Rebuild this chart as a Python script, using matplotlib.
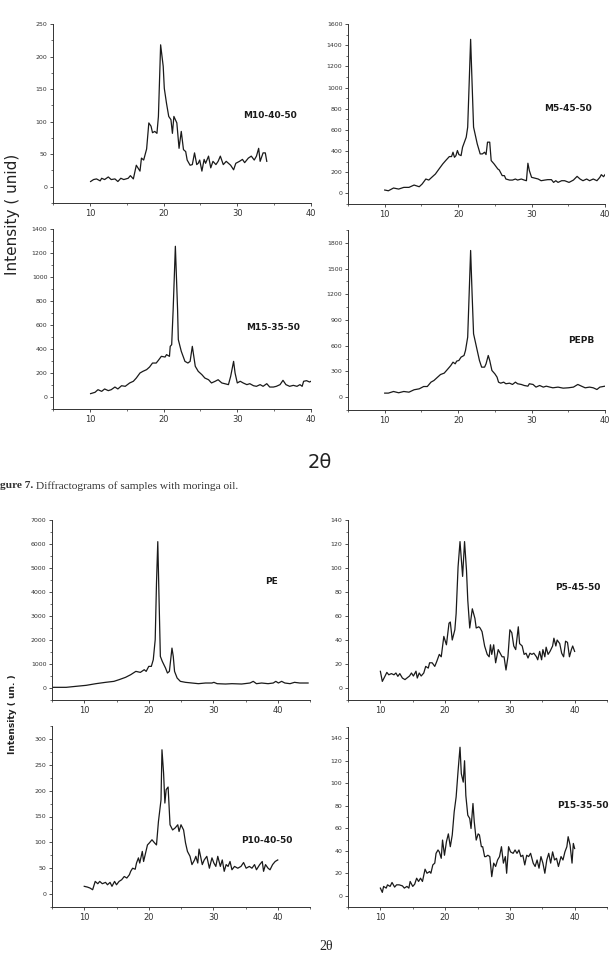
import matplotlib
matplotlib.use("Agg")
import matplotlib.pyplot as plt
from matplotlib.ticker import MultipleLocator

W, H = 611, 961

# ---- Figure 7 (moringa oil) ----
m10_x = [10.1, 10.5, 10.9, 11.4, 11.6, 12.0, 12.5, 12.9, 13.4, 13.8, 14.2, 14.6, 15.2, 15.5, 15.9,
         16.3, 16.8, 17.0, 17.3, 17.7, 18.0, 18.3, 18.5, 18.8, 19.1, 19.3, 19.6, 19.95, 20.1, 20.4,
         20.7, 21.0, 21.2, 21.4, 21.8, 22.1, 22.4, 22.7, 23.0, 23.2, 23.6, 23.9, 24.2, 24.5, 24.7,
         24.9, 25.2, 25.5, 25.7, 26.1, 26.4, 26.7, 27.1, 27.4, 27.7, 28.1, 28.5, 28.8, 29.1, 29.5,
         29.8, 30.3, 30.7, 31.0, 31.5, 31.9, 32.3, 32.6, 32.9, 33.1, 33.5, 33.8, 34.0]
m10_y = [8, 11, 12, 9, 13, 11, 15, 11, 12, 8, 13, 11, 13, 17, 12,
         33, 24, 44, 41, 58, 98, 93, 83, 85, 82, 108, 218, 185, 151, 128,
         108, 103, 82, 108, 98, 59, 85, 57, 54, 41, 33, 34, 52, 34, 36,
         41, 24, 42, 36, 47, 29, 39, 34, 39, 47, 34, 39, 36, 33, 26,
         36, 39, 42, 37, 44, 47, 41, 47, 59, 39, 52, 52, 39]

m5_x = [10.0, 10.5, 11.2, 11.9, 12.6, 13.3, 14.0, 14.7, 15.1, 15.6, 16.0, 16.5, 16.9, 17.4, 17.9,
        18.3, 18.8, 19.1, 19.3, 19.5, 19.7, 19.9, 20.1, 20.4, 20.6, 21.1, 21.3, 21.5, 21.7, 21.9,
        22.1, 22.3, 22.6, 23.0, 23.3, 23.6, 23.8, 24.0, 24.3, 24.5, 24.9, 25.4, 25.6, 26.0, 26.3,
        26.5, 27.0, 27.4, 27.8, 28.1, 28.6, 29.0, 29.3, 29.5, 29.7, 30.0, 30.4, 30.9, 31.3, 31.8,
        32.2, 32.7, 33.0, 33.3, 33.6, 34.1, 34.5, 35.1, 35.7, 36.2, 36.6, 37.0, 37.5, 37.9, 38.4,
        38.9, 39.3, 39.5, 39.8, 40.0]
m5_y = [32, 25, 51, 41, 57, 57, 79, 63, 89, 136, 126, 158, 183, 231, 278,
        310, 348, 348, 389, 341, 357, 405, 367, 357, 436, 531, 626, 1037, 1455, 1037,
        626, 563, 468, 373, 373, 389, 367, 484, 484, 310, 278, 231, 221, 168, 168,
        136, 126, 126, 136, 126, 136, 126, 120, 285, 215, 152, 145, 136, 120, 126,
        130, 130, 104, 120, 104, 120, 120, 104, 126, 161, 136, 120, 136, 120, 136,
        120, 152, 177, 158, 177]

m15_x = [10.1, 10.7, 11.1, 11.6, 12.0, 12.5, 12.9, 13.4, 13.8, 14.3, 14.8, 15.4, 15.9, 16.3, 16.8,
         17.2, 17.7, 18.1, 18.5, 19.0, 19.3, 19.7, 20.2, 20.4, 20.8, 20.9, 21.1, 21.3, 21.6, 21.9,
         22.0, 22.4, 22.9, 23.3, 23.6, 23.9, 24.1, 24.3, 24.7, 25.2, 25.6, 26.1, 26.5, 27.0, 27.4,
         27.9, 28.3, 28.8, 29.1, 29.5, 29.7, 30.0, 30.4, 30.8, 31.3, 31.7, 32.2, 32.6, 33.1, 33.5,
         34.0, 34.4, 34.9, 35.3, 35.8, 36.2, 36.6, 37.1, 37.6, 38.1, 38.5, 38.8, 39.0, 39.4, 39.8,
         40.0]
m15_y = [28, 39, 61, 47, 67, 53, 61, 83, 67, 94, 89, 117, 131, 158, 200,
         214, 228, 250, 283, 283, 306, 339, 333, 353, 339, 422, 436, 728, 1256, 728,
         478, 381, 297, 283, 297, 422, 339, 256, 214, 186, 158, 144, 117, 131, 144,
         117, 111, 103, 172, 297, 200, 117, 131, 117, 103, 111, 94, 89, 103, 89,
         111, 83, 83, 89, 103, 139, 103, 89, 97, 89, 103, 89, 131, 136, 125,
         131]

pepb_x = [10.0, 10.5, 11.2, 11.9, 12.6, 13.3, 14.0, 14.7, 15.3, 15.8, 16.3, 16.7, 17.2, 17.6, 18.1,
          18.5, 19.0, 19.3, 19.6, 19.8, 20.1, 20.4, 20.8, 21.0, 21.3, 21.5, 21.7, 21.9, 22.1, 22.3,
          22.6, 22.9, 23.2, 23.6, 23.8, 24.1, 24.3, 24.6, 25.0, 25.3, 25.5, 25.8, 26.2, 26.5, 27.0,
          27.4, 27.8, 28.1, 28.6, 29.0, 29.5, 29.7, 30.2, 30.6, 31.1, 31.6, 32.0, 32.5, 32.9, 33.6,
          34.3, 35.0, 35.7, 36.3, 36.8, 37.3, 37.9, 38.4, 38.9, 39.3, 40.0]
pepb_y = [47, 47, 66, 51, 66, 58, 86, 97, 124, 124, 175, 194, 233, 264, 280,
          319, 369, 408, 389, 420, 428, 467, 486, 544, 700, 1205, 1711, 1205, 739, 661,
          544, 428, 350, 350, 389, 486, 428, 311, 272, 233, 175, 163, 175, 156, 163,
          148, 175, 156, 148, 136, 128, 156, 148, 117, 136, 117, 128, 117, 109, 117,
          105, 109, 117, 148, 128, 109, 117, 109, 89, 117, 128]

# ---- Figure 8 ----
pe_x = [5.0, 7.2, 8.7, 10.3, 11.8, 13.3, 14.6, 15.4, 16.4, 17.2, 18.0, 18.7, 19.3, 19.6, 20.0,
        20.4, 20.7, 21.0, 21.2, 21.4, 21.6, 21.8, 22.1, 22.6, 22.9, 23.2, 23.4, 23.6, 23.8, 24.0,
        24.4, 24.9, 25.7, 26.7, 27.7, 28.8, 29.8, 30.1, 30.6, 31.9, 32.9, 34.4, 35.7, 36.2, 36.7,
        37.5, 38.5, 39.3, 39.7, 40.1, 40.6, 41.1, 41.9, 42.6, 43.4, 44.7]
pe_y = [28, 28, 69, 111, 180, 236, 277, 347, 444, 554, 693, 651, 762, 693, 901,
        901, 1178, 2010, 4366, 6098, 3673, 1317, 1109, 832, 624, 693, 1178, 1663, 1317, 693,
        416, 277, 236, 208, 180, 208, 208, 236, 180, 166, 180, 166, 208, 277, 180,
        208, 180, 208, 277, 208, 277, 208, 180, 236, 208, 208]

p5_x = [10.0, 10.3, 10.7, 11.0, 11.3, 11.7, 12.1, 12.4, 12.7, 13.0, 13.4, 13.8, 14.1, 14.5, 14.8,
        15.1, 15.5, 15.7, 16.0, 16.3, 16.7, 17.0, 17.4, 17.6, 18.0, 18.4, 18.7, 19.1, 19.4, 19.8,
        20.2, 20.6, 20.8, 21.1, 21.5, 21.7, 22.0, 22.3, 22.7, 23.0, 23.3, 23.5, 23.8, 24.2, 24.6,
        24.8, 25.2, 25.4, 25.7, 26.1, 26.5, 26.8, 27.0, 27.2, 27.5, 27.8, 28.2, 28.5, 28.8, 29.1,
        29.4, 29.7, 30.0, 30.3, 30.6, 30.9, 31.3, 31.5, 31.9, 32.2, 32.5, 32.8, 33.1, 33.4, 33.7,
        34.1, 34.3, 34.6, 34.9, 35.1, 35.4, 35.6, 35.9, 36.2, 36.6, 36.8, 37.1, 37.3, 37.7, 38.0,
        38.3, 38.6, 38.9, 39.2, 39.5, 39.7, 40.0]
p5_y = [13.9, 5.5, 9.7, 13, 11, 12, 11, 12.5, 9.7, 12, 8.3, 7, 8.3, 10, 12.5,
        10, 14, 8.3, 12.5, 10, 12.5, 18, 16.6, 21, 21, 18, 22, 28, 26, 43,
        36, 54, 55, 40, 48.5, 62, 101, 122, 93, 122, 98, 73, 50, 66, 58,
        50, 51, 50, 47, 35, 28, 26, 36, 28, 36, 21, 32, 29, 26, 26,
        15, 26, 48.5, 46, 35, 32, 51, 37, 35, 28, 29, 25, 29, 28, 29,
        26, 23.5, 30.5, 23.5, 32, 26, 34, 28, 30.5, 35, 41.5, 35, 40, 37, 29,
        26, 39, 38, 26, 32, 35, 30.5]

p10_x = [10.0, 10.5, 10.9, 11.3, 11.7, 12.1, 12.4, 12.8, 13.3, 13.6, 14.0, 14.3, 14.7, 15.0, 15.4,
         15.8, 16.2, 16.6, 17.0, 17.2, 17.5, 17.9, 18.1, 18.4, 18.6, 19.0, 19.2, 19.5, 19.8, 20.1,
         20.5, 20.9, 21.2, 21.5, 21.9, 22.05, 22.3, 22.5, 22.7, 23.0, 23.3, 23.7, 24.1, 24.5, 24.7,
         25.0, 25.4, 25.7, 26.0, 26.4, 26.7, 27.1, 27.3, 27.6, 27.8, 28.3, 28.6, 29.0, 29.4, 29.8,
         30.1, 30.4, 30.7, 31.1, 31.4, 31.7, 32.0, 32.3, 32.6, 32.9, 33.3, 33.8, 34.3, 34.7, 35.1,
         35.6, 36.0, 36.4, 36.7, 37.2, 37.6, 37.8, 38.1, 38.5, 38.8, 39.2, 39.6, 40.0]
p10_y = [15, 13.5, 11.6, 8.4, 24.5, 20, 24.5, 20, 22.6, 18, 22.6, 15, 24.5, 18, 24.5,
         27.7, 34, 31, 37.4, 44, 50, 48, 60, 70, 60, 82.5, 63, 79, 95, 99,
         105, 99, 95, 140, 182, 279, 234, 176, 202, 207, 134, 124, 128, 134, 121,
         134, 124, 99, 82.5, 73, 57, 66, 73, 60, 87, 57, 66, 73, 50, 70,
         60, 53.5, 73, 53.5, 66, 44, 57, 53.5, 63, 47, 53.5, 50, 53.5, 61, 50,
         53.5, 50, 57, 47, 57, 63, 44, 57, 50, 47, 57, 63, 66]

p15_x = [10.0, 10.3, 10.5, 10.9, 11.1, 11.5, 11.8, 12.2, 12.5, 12.9, 13.4, 13.7, 14.1, 14.4, 14.6,
         15.0, 15.3, 15.6, 15.9, 16.2, 16.5, 16.9, 17.2, 17.6, 17.8, 18.1, 18.4, 18.6, 18.9, 19.1,
         19.4, 19.6, 19.9, 20.2, 20.5, 20.8, 21.1, 21.4, 21.7, 22.0, 22.3, 22.5, 22.8, 23.0, 23.2,
         23.5, 23.8, 24.0, 24.3, 24.5, 24.8, 25.1, 25.3, 25.6, 25.8, 26.1, 26.3, 26.6, 26.9, 27.2,
         27.5, 27.8, 28.1, 28.4, 28.7, 29.0, 29.3, 29.5, 29.8, 30.1, 30.5, 30.8, 31.1, 31.4, 31.7,
         32.0, 32.3, 32.6, 32.9, 33.2, 33.6, 33.9, 34.2, 34.5, 34.8, 35.1, 35.4, 35.7, 36.0, 36.3,
         36.6, 36.9, 37.2, 37.5, 37.9, 38.2, 38.5, 38.8, 39.0, 39.3, 39.6, 39.8, 40.0]
p15_y = [6.8, 3, 8.3, 6.8, 9.7, 8.3, 11.8, 7.7, 9.7, 9.7, 8.8, 6.8, 8.3, 6.8, 12.7,
         8.3, 10.3, 15.6, 12.7, 15.6, 12.7, 23.6, 20, 21.5, 20, 27.4, 29, 37.7, 40.7, 39,
         33.3, 49.5, 36, 48, 55, 43.6, 54, 74.6, 87.8, 111, 132, 108.5, 101, 120, 89,
         71.6, 68.7, 59.8, 82, 65.7, 49.5, 55, 54, 43.6, 43.6, 34.8, 34.8, 36, 34.8, 17,
         29, 26, 31.8, 34.8, 43.6, 29, 34.8, 20, 43.6, 39, 37.7, 40.7, 37.7, 40.7, 34.8,
         36, 27.4, 36, 34.8, 37.7, 29, 26, 31.8, 24.5, 34.8, 29, 20, 31.8, 37.7, 29,
         39, 31.8, 33.3, 26, 34.8, 31.8, 39, 43.6, 52.5, 45, 29, 46.5, 42]

# name, x, y, label position, ylim, y major step, xlim, pixel box (l, t, r, b)
panels = [
    ("M10-40-50", m10_x, m10_y, (34.4, 109), (-25, 250), 50, (5, 40), (53, 24, 311, 203)),
    ("M5-45-50", m5_x, m5_y, (34.9, 805), (-100, 1600), 200, (5, 40), (348, 24, 605, 204)),
    ("M15-35-50", m15_x, m15_y, (34.9, 575), (-100, 1400), 200, (5, 40), (53, 229, 311, 409)),
    ("PEPB", pepb_x, pepb_y, (36.7, 663), (-150, 1950), 300, (5, 40), (348, 230, 605, 410)),
    ("PE", pe_x, pe_y, (39.0, 4458), (-500, 7000), 1000, (5, 45), (52, 520, 310, 700)),
    ("P5-45-50", p5_x, p5_y, (40.5, 84), (-10, 140), 20, (5, 45), (348, 520, 607, 700)),
    ("P10-40-50", p10_x, p10_y, (38.3, 103), (-25, 325), 50, (5, 45), (52, 726, 310, 907)),
    ("P15-35-50", p15_x, p15_y, (41.2, 80), (-10, 150), 20, (5, 45), (348, 727, 607, 907)),
]

fig = plt.figure(figsize=(W / 100, H / 100), dpi=100)

for name, xs, ys, lab, ylim, ystep, xlim, (l, t, r, b) in panels:
    ax = fig.add_axes([l / W, 1 - b / H, (r - l) / W, (b - t) / H])
    ax.plot(xs, ys, color="#1a1a1a", linewidth=0.9)
    ax.set_xlim(*xlim)
    ax.set_ylim(*ylim)
    ax.xaxis.set_major_locator(MultipleLocator(10))
    ax.xaxis.set_minor_locator(MultipleLocator(5))
    ax.yaxis.set_major_locator(MultipleLocator(ystep))
    ax.yaxis.set_minor_locator(MultipleLocator(ystep / 2))
    ax.set_yticks([v for v in ax.get_yticks() if 0 <= v <= ylim[1] + 1e-6])
    ax.set_ylim(*ylim)
    for s in ("top", "right"):
        ax.spines[s].set_visible(False)
    for s in ("left", "bottom"):
        ax.spines[s].set_linewidth(0.7)
        ax.spines[s].set_color("#333333")
    ax.tick_params(which="major", direction="out", length=2.5, width=0.6, color="#333333")
    ax.tick_params(which="minor", direction="out", length=1.5, width=0.5, color="#333333")
    ax.tick_params(axis="x", labelsize=6, labelcolor="#333333", pad=2)
    ax.tick_params(axis="y", labelsize=4.5, labelcolor="#333333", pad=1.5)
    ax.text(lab[0], lab[1], name, ha="center", va="center",
            fontsize=6.5, fontweight="bold", color="#1a1a1a")

# figure-level labels
fig.text(13 / W, 1 - 214 / H, "Intensity ( unid)", rotation=90, ha="center", va="center",
         fontsize=11, color="#222222")
fig.text(320 / W, 1 - 462 / H, "2θ", ha="center", va="center", fontsize=14, color="#222222")

# caption: bold lead-in followed by plain text, placed after measuring the first part
cap_y = 1 - 486 / H
lead = fig.text(0, cap_y, "gure 7.", ha="left", va="center", fontsize=8.2,
                family="Liberation Serif", fontweight="bold", color="#333333")
fig.canvas.draw()
lead_w = lead.get_window_extent().width
fig.text((lead_w + 3) / W, cap_y, "Diffractograms of samples with moringa oil.", ha="left",
         va="center", fontsize=8.2, family="Liberation Serif", color="#333333")

fig.text(13 / W, 1 - 714 / H, "Intensity ( un. )", rotation=90, ha="center", va="center",
         fontsize=6.5, fontweight="bold", color="#222222")
fig.text(326 / W, 1 - 946 / H, "2θ", ha="center", va="center", fontsize=10,
         family="Liberation Serif", color="#222222")

fig.savefig("out.png", dpi=100)
